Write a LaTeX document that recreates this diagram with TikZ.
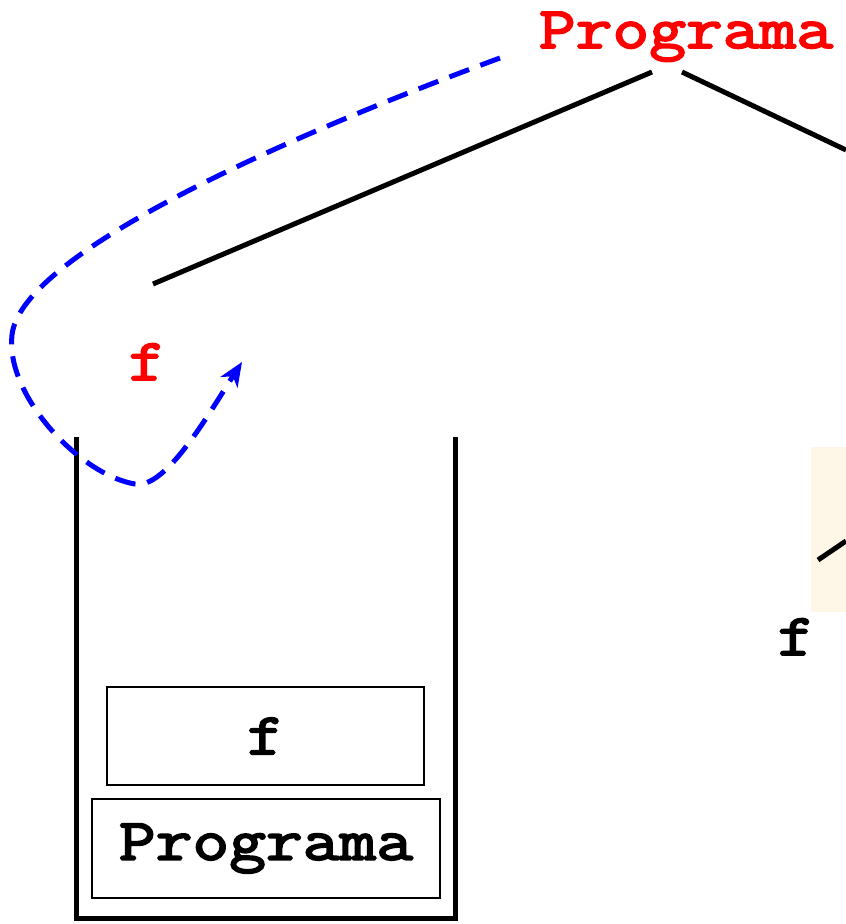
\documentclass[tikz,border=0pt]{standalone}
\usepackage{fontspec}
\newfontfamily\courbold{Latin Modern Mono}[FakeBold=3.2, FakeStretch=1.21]
\usetikzlibrary{arrows.meta}
\definecolor{fadebeige}{RGB}{254,247,232}
\tikzset{
  lbl/.style={font=\courbold\fontsize{59}{59}\selectfont, inner sep=0pt},
  treeline/.style={line width=5pt, black},
  stackwall/.style={line width=5pt, black},
  framebox/.style={draw=black, line width=1.7pt, inner sep=0pt, font=\courbold\fontsize{59}{59}\selectfont},
  callpath/.style={blue, line width=5pt, dash pattern=on 21pt off 12pt},
}
\begin{document}
\begin{tikzpicture}[x=1pt,y=-1pt]
\useasboundingbox (0,0) rectangle (846,924);
% faint background remnant on the right
\fill[fadebeige] (811,447) rectangle (846,612);
% tree
\node[lbl, text=red, anchor=base] (prog) at (686,48) {Programa};
\node[lbl, text=red, anchor=base] (fred) at (147,380) {f};
\node[lbl, anchor=base] (fright) at (796,655) {f};
\coordinate (pl) at (652,72);
\coordinate (pr) at (682,72);
\coordinate (fl) at (153,284);
\coordinate (edgeR) at (846,150);
\coordinate (fr) at (818,560);
\coordinate (edgeR2) at (846,541);
\draw[treeline] (pl) -- (fl);
\draw[treeline] (pr) -- (edgeR);
\draw[treeline] (fr) -- (edgeR2);
% stack
\coordinate (sTL) at (76,437);
\coordinate (sBL) at (76,918);
\coordinate (sBR) at (455,918);
\coordinate (sTR) at (455,437);
\draw[stackwall] (sTL) -- (sBL) -- (sBR) -- (sTR);
\node[framebox, minimum width=317pt, minimum height=98pt] (fbox) at (265.5,736) {f};
\node[framebox, minimum width=348pt, minimum height=99pt] (pbox) at (266,848.5) {Programa};
% call path
\coordinate (cstart) at (500,58);
\coordinate (cend) at (242,362);
\draw[callpath, -{Stealth[length=24pt,width=20pt,inset=7pt]}]
  (cstart) .. controls (250,150) and (20,260) .. (12,335)
  .. controls (5,395) and (80,475) .. (135,484)
  .. controls (165,489) and (205,420) .. (cend);
\end{tikzpicture}
\end{document}
